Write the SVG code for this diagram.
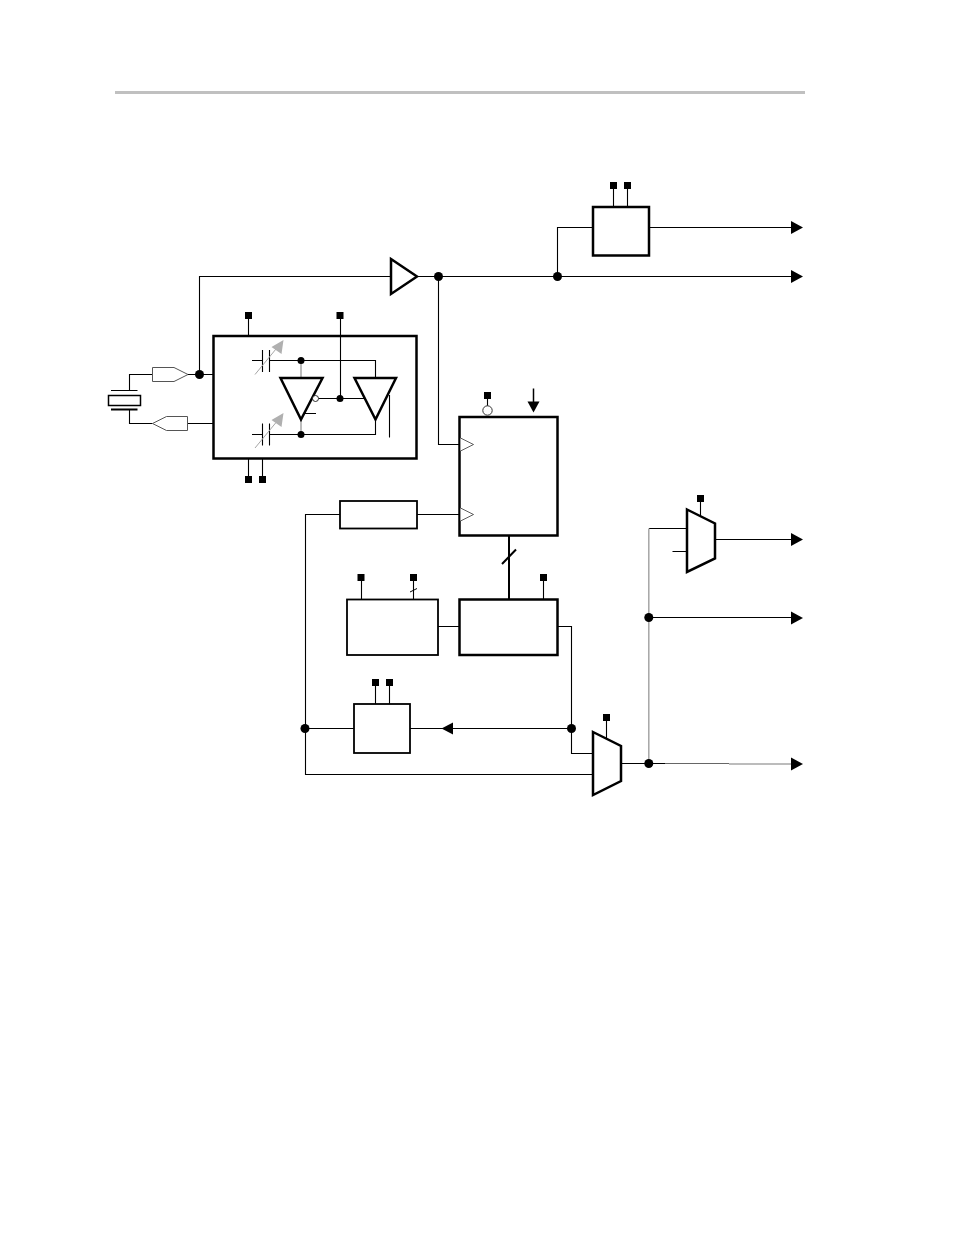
<svg xmlns="http://www.w3.org/2000/svg" width="954" height="1235" viewBox="0 0 954 1235">
<style>
.w{fill:none;stroke:#000;stroke-width:1.100}
.g{fill:none;stroke:#a6a6a6;stroke-width:1.500}
.b{fill:#fff;stroke:#000;stroke-width:2.500}
.t{fill:#fff;stroke:#000;stroke-width:2.500;stroke-linejoin:miter}
.o{fill:#fff;stroke:#555;stroke-width:1}
.s{fill:#000}
.h{fill:#000}
.ar{fill:#b0b0b0}
</style>
<defs>
<rect id="pin" class="s" x="-3.500" y="-3.500" width="7" height="7"/>
<circle id="dot" class="s" r="4.500"/>
<circle id="dots" class="s" r="3.500"/>
<path id="arr" class="h" d="M-12,-6.500L0,0L-12,6.500Z"/>
</defs>
<rect width="954" height="1235" fill="#fff"/>
<rect id="header-rule" x="115" y="91" width="690" height="3" fill="#c0c0c0"/>
<g id="connectors">
<path class="w" d="M199.500,374.500V276.500H390M417,276.500H791M438.500,276.500V444.500H460M557.500,276.500V227.500H593M649,227.500H791"/>
<path class="w" d="M188,374.500H213.500M187.500,423.500H213.500M129.500,390.500V374.500H152.500M129.500,409V423.500H152.500"/>
<path class="w" d="M248.500,318V335.500M340.500,318V336M248.500,458.500V476M262.500,458.500V476"/>
<path class="w" d="M417,514.500H460M340,514.500H305.500V774.500H592.500M354,728.500H305.500M410,728.500H571.500M558,626.500H571.500V753.500H592.500M438,626.500H460"/>
<path class="w" d="M361.500,580V599M413.500,580V599M543.500,580V599M375.500,685V704M389.500,685V704M613.500,188V207M627.500,188V207M606.500,720V738M700.500,501V516M487.500,398V406"/>
<path fill="none" stroke="#000" stroke-width="1" d="M410,592L417,588.500"/>
<path fill="none" stroke="#000" stroke-width="1.500" d="M533.500,388.500V402"/>
<path fill="none" stroke="#000" stroke-width="2" d="M509,536V599M502,564L516,549.500"/>
<path class="w" d="M620.500,763.500H665M715,539.500H791M649,528.500H687M672.500,551.500H687M649,617.500H791"/>
<path fill="none" stroke="#666" stroke-width="1" d="M665,763.500H729"/>
<path fill="none" stroke="#a6a6a6" stroke-width="1.500" d="M729,764H791M648.800,528.500V763.500"/>
<use href="#arr" x="803" y="227.500"/>
<use href="#arr" x="803" y="276.500"/>
<use href="#arr" x="803" y="539.500"/>
<use href="#arr" x="803" y="618"/>
<use href="#arr" x="803" y="764"/>
<path class="h" d="M441.500,728.500L453,722.500V734.500Z"/>
<path class="h" d="M533.500,412.500L527.500,401.500H539.500Z"/>
<use href="#dot" x="199.500" y="374.500"/>
<use href="#dot" x="438.500" y="276.500"/>
<use href="#dot" x="557.500" y="276.500"/>
<use href="#dot" x="305" y="728.500"/>
<use href="#dot" x="571.500" y="728.500"/>
<use href="#dot" x="648.800" y="617.500"/>
<use href="#dot" x="648.800" y="763.500"/>
</g>
<g id="osc-buffer-in"><path class="o" d="M152.500,367.500H174L188,374.500L174,381.500H152.500Z"/></g>
<g id="osc-buffer-out"><path class="o" d="M152.500,423.500L166.500,416.500H187.500V430.500H166.500Z"/></g>
<g id="crystal">
<rect x="108.500" y="395.500" width="32" height="10" fill="#fff" stroke="#000" stroke-width="1.500"/>
<path fill="none" stroke="#000" stroke-width="1" d="M111,390.500H137.500"/>
<path fill="none" stroke="#000" stroke-width="2" d="M111,409.500H137.500"/>
</g>
<g id="clock-buffer"><path class="t" d="M391,259L417,276.500L391,294Z"/></g>
<g id="oscillator">
<rect class="b" x="213.500" y="336" width="203" height="122.500"/>
<path class="w" d="M252,360.500H262.500M269.500,360.500H375.500V378M252,434.500H262.500M269.500,434.500H375.500V420M262.500,350V372M269.500,350V372M262.500,423.500V445.500M269.500,423.500V445.500M340.500,336V398.500"/>
<path class="g" d="M301,360.500V378M301,420V434.500"/>
<path fill="none" stroke="#a6a6a6" stroke-width="1" d="M255,374.500L276,349M255,448L276,422.500"/>
<path class="ar" d="M283.500,340L281.500,354L271.500,347ZM283.500,413L281.500,427L271.500,420Z"/>
<path class="t" d="M280.500,378H322.500L301,419.500Z"/>
<path class="t" d="M354.500,378H396L375.500,419.500Z"/>
<path class="w" d="M318.500,398.500H364M305,413.500H316M389.500,395V437.500"/>
<circle cx="315.500" cy="398.500" r="3" fill="#fff" stroke="#000" stroke-width="0.800"/>
<use href="#dots" x="301" y="360.500"/>
<use href="#dots" x="301" y="434.500"/>
<use href="#dots" x="340" y="398.500"/>
<use href="#pin" x="248.500" y="315.500"/>
<use href="#pin" x="340" y="315.500"/>
<use href="#pin" x="248.500" y="479.500"/>
<use href="#pin" x="262.500" y="479.500"/>
</g>
<g id="pll-counter">
<rect class="b" x="459.500" y="417" width="98" height="118.500"/>
<path fill="#fff" stroke="#333" stroke-width="0.800" d="M460.500,438L473.500,444.500L460.500,451M460.500,508L473.500,514.500L460.500,521"/>
<circle cx="487.500" cy="410.500" r="4.700" fill="#fff" stroke="#333" stroke-width="1"/>
<use href="#pin" x="487.500" y="395.500"/>
</g>
<g id="delay-box"><rect x="340" y="501" width="77" height="27.500" fill="#fff" stroke="#000" stroke-width="1.800"/></g>
<g id="left-box">
<rect x="347" y="599.500" width="91" height="55.500" fill="#fff" stroke="#000" stroke-width="1.800"/>
<use href="#pin" x="361" y="577.500"/>
<use href="#pin" x="413.500" y="577.500"/>
</g>
<g id="right-box">
<rect class="b" x="459.500" y="599.500" width="98" height="55.500"/>
<use href="#pin" x="543.500" y="577.500"/>
</g>
<g id="divider">
<rect x="354" y="704" width="56" height="49" fill="#fff" stroke="#000" stroke-width="1.800"/>
<use href="#pin" x="375.500" y="682.500"/>
<use href="#pin" x="389.500" y="682.500"/>
</g>
<g id="top-divider">
<rect class="b" x="593" y="207" width="56" height="48.500"/>
<use href="#pin" x="613.500" y="185.500"/>
<use href="#pin" x="627.500" y="185.500"/>
</g>
<g id="mux-bottom">
<path class="t" d="M593,732L621,746V781L593,795Z"/>
<use href="#pin" x="606.500" y="717.500"/>
</g>
<g id="mux-top">
<path class="t" d="M687,509.500L715,523.500V558.500L687,572Z"/>
<use href="#pin" x="700.500" y="498.500"/>
</g>
</svg>
